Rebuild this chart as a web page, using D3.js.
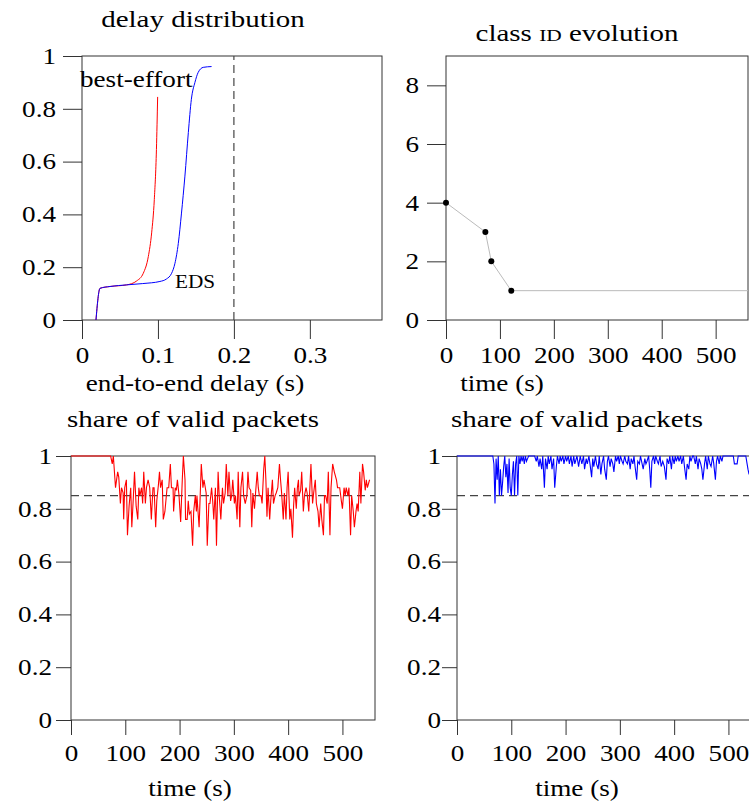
<!DOCTYPE html>
<html><head><meta charset="utf-8">
<script src="https://cdn.jsdelivr.net/npm/d3@7"></script>
<style>body{margin:0;background:#fff}svg{display:block;background:#fff}text{font-family:"Liberation Serif",serif;fill:#000}</style>
</head><body><svg id="c" width="749" height="805"></svg>
<script>
// ---------- data ----------
const delayTicksX = [0, 0.1, 0.2, 0.3];
const shareTicksY = [0, 0.2, 0.4, 0.6, 0.8, 1];
const timeTicks = [0, 100, 200, 300, 400, 500];
const classTicksY = [0, 2, 4, 6, 8];
const deadline = 0.2;
const validThreshold = 0.85;

// delay distribution (CDF) : [delay s, share]
const cdfBestEffort = [[0.0184,0],[0.0237,0.12],[0.037,0.127],[0.0588,0.133],[0.072,0.148],[0.0807,0.177],[0.0873,0.24],[0.0917,0.33],[0.0952,0.456],[0.098,0.646],[0.0996,0.845]];
const cdfEDS = [[0.0184,0],[0.0237,0.12],[0.037,0.127],[0.0588,0.133],[0.08,0.138],[0.1026,0.146],[0.111,0.155],[0.118,0.177],[0.1224,0.215],[0.1268,0.29],[0.131,0.405],[0.1355,0.545],[0.14,0.71],[0.144,0.836],[0.1487,0.9],[0.153,0.938],[0.1596,0.957],[0.1706,0.96]];

// class ID evolution : [time s, class id]
const classIdPoints = [[0,4],[73,3],[84,2],[121,1]];
const classIdEnd = [560,1];

// share of valid packets : [time s, share]
const validBestEffort = [[0,1],[73,1],[76,0.97],[78,1],[82,0.88],[86,0.94],[88,0.92],[91,0.82],[93,0.88],[96,0.86],[97,0.76],[99,0.88],[102,0.91],[104,0.70],[107,0.81],[110,0.88],[112,0.73],[115,0.85],[117,0.94],[120,0.81],[123,0.76],[125,0.88],[127,0.85],[130,0.88],[132,0.82],[134,0.94],[137,0.82],[139,0.88],[142,0.91],[145,0.88],[148,0.76],[151,0.88],[153,0.88],[156,0.73],[158,0.83],[161,0.89],[163,0.94],[165,0.88],[168,0.91],[170,0.76],[173,0.79],[177,0.88],[180,0.88],[183,0.97],[185,0.88],[188,0.88],[189,0.79],[192,0.88],[194,0.87],[196,0.91],[199,0.85],[202,0.75],[205,0.91],[207,1],[210,0.91],[211,0.76],[214,0.76],[216,0.83],[218,0.78],[221,0.79],[224,0.66],[226,0.79],[229,0.85],[231,0.79],[232,0.85],[236,0.73],[240,0.97],[243,0.88],[245,0.91],[249,0.86],[251,0.66],[254,0.82],[256,0.82],[259,0.88],[261,0.83],[263,0.76],[266,0.88],[268,0.66],[271,0.94],[273,0.85],[276,0.76],[279,0.88],[281,0.82],[284,0.86],[286,0.97],[289,0.85],[291,0.94],[294,0.83],[296,0.85],[298,0.91],[301,0.82],[303,0.85],[306,0.76],[308,0.94],[311,0.73],[313,0.88],[316,0.94],[318,0.85],[321,0.82],[324,0.85],[326,0.94],[328,0.88],[331,0.87],[333,0.73],[335,0.86],[338,0.80],[340,0.86],[343,0.94],[345,0.88],[347,0.85],[350,0.85],[352,0.82],[355,0.95],[357,1],[359,0.91],[361,0.77],[363,0.88],[366,0.76],[368,0.83],[371,0.91],[373,0.82],[376,0.85],[378,0.86],[381,0.88],[384,0.97],[386,0.91],[388,0.86],[391,0.76],[393,0.86],[396,0.76],[398,0.88],[400,0.94],[403,0.76],[405,0.80],[408,0.69],[410,0.81],[412,0.88],[415,0.80],[417,0.88],[419,0.91],[420,0.85],[423,0.87],[425,0.94],[428,0.79],[430,0.85],[433,0.88],[435,0.86],[438,0.79],[440,0.88],[442,0.97],[445,0.82],[447,0.86],[450,0.91],[452,0.82],[455,0.79],[457,0.73],[460,0.82],[462,0.76],[465,0.70],[467,0.85],[469,0.85],[472,0.82],[474,0.94],[477,0.70],[479,0.88],[482,0.97],[485,0.94],[489,0.91],[491,0.88],[495,0.88],[498,0.83],[500,0.80],[503,0.88],[505,0.85],[507,0.88],[510,0.85],[512,0.88],[515,0.70],[517,0.85],[520,0.79],[522,0.73],[525,0.79],[527,0.82],[529,0.79],[532,0.94],[534,0.82],[537,0.97],[539,0.94],[542,0.87],[544,0.91],[546,0.88],[550,0.91]];

const validEDS = [[0,1],[66,1],[68,0.97],[70,0.82],[72,0.99],[74,0.91],[76,1],[78,0.85],[80,0.95],[82,0.85],[84,0.9],[86,0.96],[88,1],[90,0.92],[92,0.97],[94,0.86],[96,0.99],[98,0.88],[100,0.85],[102,0.93],[104,0.98],[106,0.85],[108,0.97],[110,1],[112,0.85],[114,1],[116,0.97],[118,1],[120,0.98],[122,1],[124,0.97],[126,1],[128,0.98],[130,0.99],[132,1],[137,1],[143,1],[146,0.98],[148,1],[151,0.96],[153,0.99],[156,0.95],[158,1],[161,0.88],[163,0.99],[166,0.95],[168,1],[170,0.97],[173,1],[175,0.95],[178,0.99],[180,0.88],[183,0.96],[185,1],[188,0.97],[190,1],[192,0.98],[195,1],[197,0.97],[200,1],[202,0.98],[205,1],[207,0.97],[210,1],[212,0.96],[215,1],[217,0.97],[221,1],[224,0.96],[227,1],[230,0.97],[233,1],[235,0.95],[238,0.99],[240,0.97],[243,1],[245,0.97],[248,0.92],[250,0.99],[252,0.96],[255,1],[257,0.97],[260,0.95],[262,1],[265,0.93],[267,0.97],[270,1],[272,0.95],[275,0.91],[277,0.98],[279,1],[282,0.96],[284,0.99],[287,0.97],[289,0.94],[292,1],[294,0.98],[297,1],[299,0.97],[301,1],[304,0.98],[306,0.97],[309,1],[311,0.98],[314,0.97],[316,1],[319,0.95],[321,0.99],[324,0.97],[326,1],[328,0.96],[331,0.91],[333,0.98],[336,0.97],[338,1],[341,0.97],[343,0.95],[346,0.99],[348,0.97],[350,0.98],[353,1],[355,0.95],[357,0.88],[359,0.98],[362,1],[364,0.97],[366,1],[369,0.98],[371,0.97],[374,1],[376,0.96],[379,0.98],[382,0.96],[385,0.91],[387,0.99],[390,0.97],[392,1],[395,0.95],[397,1],[400,0.97],[402,1],[404,0.98],[407,1],[409,0.98],[412,1],[414,0.97],[417,1],[419,0.96],[422,0.91],[424,0.97],[427,0.95],[429,1],[431,0.98],[434,1],[436,1],[439,0.97],[441,1],[444,0.95],[446,0.99],[449,0.97],[451,0.95],[453,0.91],[456,0.97],[458,1],[461,0.95],[463,1],[466,0.97],[468,0.96],[471,1],[473,0.97],[476,0.91],[478,0.98],[480,1],[483,0.97],[485,1],[488,0.98],[490,1],[498,1],[509,1],[511,0.97],[514,0.97],[516,0.97],[518,1],[532,1],[536,0.95],[538,0.93],[541,0.95],[544,1],[547,0.97],[550,0.99]];

// ---------- drawing ----------
const SX = 1.18, SXT = 1.26, FS = 23;
const svg = d3.select("#c");
const fmtDec = d => d === 0 ? "0" : d === 1 ? "1" : d3.format(".1f")(d);

function stretch(sel){
  sel.each(function(){
    const t = d3.select(this);
    const x = +t.attr("x") || 0;
    t.attr("x", x / SX).attr("transform", `scale(${SX},1)`);
  });
}
function label(txt, x, y, anchor = "middle", size = FS, sx = SX){
  return svg.append("text").attr("transform", `translate(${x},${y}) scale(${sx},1)`)
    .attr("text-anchor", anchor).attr("font-size", size).text(txt);
}

function panel(p){
  const g = svg.append("g").attr("transform", `translate(${p.left},${p.top})`);
  const x = d3.scaleLinear().domain(p.xd).range([0, p.w]);
  const y = d3.scaleLinear().domain(p.yd).range([p.h, 0]);
  const ax = g.append("g").attr("transform", `translate(0,${p.h})`)
    .call(d3.axisBottom(x).tickValues(p.xt).tickFormat(p.xf).tickSize(p.ts).tickSizeOuter(0).tickPadding(p.xpad));
  const ay = g.append("g")
    .call(d3.axisLeft(y).tickValues(p.yt).tickFormat(p.yf).tickSize(p.ts).tickSizeOuter(0).tickPadding(p.ypad));
  [ax, ay].forEach(a => {
    a.select(".domain").remove();
    a.selectAll("line").attr("stroke", "#333").attr("stroke-width", 1);
    a.selectAll("text").attr("font-size", FS).attr("font-family", "Liberation Serif").attr("fill", "#000");
    stretch(a.selectAll("text"));
  });
  g.append("rect").attr("width", p.w).attr("height", p.h).attr("fill", "none").attr("stroke", "#333").attr("stroke-width", 1);
  return {g, x, y};
}

// Top-left: delay distribution
{
  const {g, x, y} = panel({left:82, top:56, w:300, h:264, xd:[0,0.395], yd:[0,1], xt:delayTicksX, yt:shareTicksY,
    xf:d => d === 0 ? "0" : d3.format(".1f")(d), yf:fmtDec, ts:19, xpad:8, ypad:7});
  g.append("line").attr("x1", x(deadline)).attr("x2", x(deadline)).attr("y1", y(0)).attr("y2", y(1))
    .attr("stroke", "#444").attr("stroke-width", 1.2).attr("stroke-dasharray", "8,5");
  const line = d3.line().x(d => x(d[0])).y(d => y(d[1])).curve(d3.curveMonotoneX);
  g.append("path").datum(cdfBestEffort).attr("d", line).attr("fill", "none").attr("stroke", "#ff0000").attr("stroke-width", 1);
  g.append("path").datum(cdfEDS).attr("d", line).attr("fill", "none").attr("stroke", "#0000ff").attr("stroke-width", 1);
}
label("delay distribution", 203, 27, "middle", FS, SXT);
label("end-to-end delay (s)", 195, 391);
label("best-effort", 80, 87, "start");
label("EDS", 175, 288, "start", 18);

// Top-right: class ID evolution
{
  const {g, x, y} = panel({left:446, top:56, w:302, h:264, xd:[0,560], yd:[0,9], xt:timeTicks, yt:classTicksY,
    xf:d3.format("d"), yf:d3.format("d"), ts:19, xpad:8, ypad:8});
  const pts = classIdPoints.concat([classIdEnd]);
  g.append("path").datum(pts).attr("d", d3.line().x(d => x(d[0])).y(d => y(d[1])))
    .attr("fill", "none").attr("stroke", "#bbb").attr("stroke-width", 1);
  g.selectAll("circle").data(classIdPoints).join("circle")
    .attr("cx", d => x(d[0])).attr("cy", d => y(d[1])).attr("r", 3).attr("fill", "#000");
}
{
  const t = svg.append("text").attr("transform", `translate(577,41) scale(${SXT},1)`).attr("text-anchor", "middle").attr("font-size", FS);
  t.append("tspan").text("class ");
  t.append("tspan").attr("font-size", 17).text("ID");
  t.append("tspan").text(" evolution");
}
label("time (s)", 502, 391);

// Bottom-left: share of valid packets (best-effort)
{
  const {g, x, y} = panel({left:71, top:456, w:304, h:264, xd:[0,560], yd:[0,1], xt:timeTicks, yt:shareTicksY,
    xf:d3.format("d"), yf:fmtDec, ts:15, xpad:10, ypad:4});
  g.append("line").attr("x1", 0).attr("x2", x(560)).attr("y1", y(validThreshold)).attr("y2", y(validThreshold))
    .attr("stroke", "#444").attr("stroke-width", 1.2).attr("stroke-dasharray", "8,5");
  g.append("path").datum(validBestEffort).attr("d", d3.line().x(d => x(d[0])).y(d => y(d[1])))
    .attr("fill", "none").attr("stroke", "#ff0000").attr("stroke-width", 1.1);
}
label("share of valid packets", 193, 427, "middle", FS, SXT);
label("time (s)", 190, 796);

// Bottom-right: share of valid packets (EDS)
{
  const {g, x, y} = panel({left:457, top:456, w:304, h:264, xd:[0,560], yd:[0,1], xt:timeTicks, yt:shareTicksY,
    xf:d3.format("d"), yf:fmtDec, ts:15, xpad:10, ypad:1});
  g.append("line").attr("x1", 0).attr("x2", x(560)).attr("y1", y(validThreshold)).attr("y2", y(validThreshold))
    .attr("stroke", "#444").attr("stroke-width", 1.2).attr("stroke-dasharray", "8,5");
  g.append("path").datum(validEDS).attr("d", d3.line().x(d => x(d[0])).y(d => y(d[1])))
    .attr("fill", "none").attr("stroke", "#0000ff").attr("stroke-width", 1.1);
}
label("share of valid packets", 577, 427, "middle", FS, SXT);
label("time (s)", 577, 796);
</script></body></html>
